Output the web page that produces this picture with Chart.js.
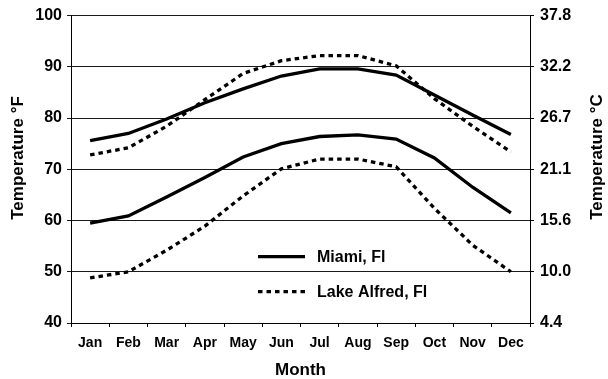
<!DOCTYPE html>
<html>
<head>
<meta charset="utf-8">
<title>Monthly temperature: Miami and Lake Alfred</title>
<script src="https://cdn.jsdelivr.net/npm/chart.js@4.4.1/dist/chart.umd.min.js"></script>
<style>
  html, body { margin: 0; padding: 0; background: #fff; }
  #wrap { width: 608px; height: 379px; }
</style>
</head>
<body>
<div id="wrap"><canvas id="chart" width="608" height="379"></canvas></div>
<script>
// Months on the category axis
const months = ['Jan', 'Feb', 'Mar', 'Apr', 'May', 'Jun', 'Jul', 'Aug', 'Sep', 'Oct', 'Nov', 'Dec'];

// Monthly mean maximum and minimum temperatures, °F
const miamiMax = [75.6, 77.0, 79.8, 83.0, 85.7, 88.2, 89.6, 89.6, 88.4, 84.5, 80.6, 76.8];
const miamiMin = [59.5, 60.9, 64.6, 68.4, 72.4, 75.0, 76.4, 76.7, 75.9, 72.2, 66.5, 61.5];
const lakeAlfredMax = [72.8, 74.2, 78.4, 83.6, 88.7, 91.2, 92.2, 92.2, 90.2, 83.8, 78.4, 73.4];
const lakeAlfredMin = [48.8, 50.0, 54.2, 58.9, 64.8, 70.1, 72.0, 72.0, 70.5, 62.4, 55.2, 50.0];

// Station names for the legend
const stationNames = ['Miami, Fl', 'Lake Alfred, Fl'];

// Fahrenheit axis range and the matching Celsius labels on the right axis
const fahrenheitTicks = [40, 50, 60, 70, 80, 90, 100];
const celsiusTicks = ['4.4', '10.0', '15.6', '21.1', '26.7', '32.2', '37.8'];

const FONT = '"Liberation Sans", Arial, Helvetica, sans-serif';
const INK = '#000';
const DOTS = [4.5, 4];

function lineStyle(dashed) {
  return {
    borderColor: INK,
    borderWidth: 3.3,
    borderDash: dashed ? DOTS : [],
    borderCapStyle: 'butt',
    pointRadius: 0,
    tension: 0,
    fill: false
  };
}

// Axis titles on the two vertical axes and the in-plot legend
const annotations = {
  id: 'annotations',
  afterDraw(chart) {
    const ctx = chart.ctx;
    const area = chart.chartArea;
    ctx.save();
    ctx.fillStyle = INK;
    ctx.font = 'bold 17px ' + FONT;
    ctx.textAlign = 'center';
    ctx.textBaseline = 'middle';

    ctx.save();
    ctx.translate(18, 158);
    ctx.rotate(-Math.PI / 2);
    ctx.fillText('Temperature °F', 0, 0);
    ctx.restore();

    ctx.save();
    ctx.translate(597, 157);
    ctx.rotate(-Math.PI / 2);
    ctx.fillText('Temperature °C', 0, 0);
    ctx.restore();

    // legend
    const x0 = area.left + 187;
    const x1 = x0 + 47;
    const rows = [area.top + 241, area.top + 276];
    ctx.strokeStyle = INK;
    ctx.lineWidth = 3.3;
    ctx.lineCap = 'butt';
    rows.forEach((y, i) => {
      ctx.setLineDash(i === 0 ? [] : DOTS);
      ctx.beginPath();
      ctx.moveTo(x0, y);
      ctx.lineTo(x1, y);
      ctx.stroke();
    });
    ctx.setLineDash([]);
    ctx.font = 'bold 16px ' + FONT;
    ctx.textAlign = 'left';
    rows.forEach((y, i) => ctx.fillText(stationNames[i], x1 + 12, y + 1));
    ctx.restore();
  }
};

new Chart(document.getElementById('chart'), {
  type: 'line',
  data: {
    labels: months,
    datasets: [
      Object.assign({ label: stationNames[0] + ' max', data: miamiMax }, lineStyle(false)),
      Object.assign({ label: stationNames[0] + ' min', data: miamiMin }, lineStyle(false)),
      Object.assign({ label: stationNames[1] + ' max', data: lakeAlfredMax }, lineStyle(true)),
      Object.assign({ label: stationNames[1] + ' min', data: lakeAlfredMin }, lineStyle(true))
    ]
  },
  options: {
    responsive: false,
    devicePixelRatio: 1,
    animation: false,
    layout: { padding: { top: 15, left: 0, right: 0, bottom: 0 } },
    plugins: {
      legend: { display: false },
      tooltip: { enabled: false }
    },
    scales: {
      x: {
        offset: true,
        grid: {
          offset: true,
          drawOnChartArea: false,
          drawTicks: true,
          tickLength: 4,
          color: INK,
          lineWidth: 1
        },
        border: { display: true, color: INK, width: 1 },
        ticks: {
          color: INK,
          padding: 8,
          maxRotation: 0,
          autoSkip: false,
          font: { family: FONT, size: 14, weight: 'bold' }
        },
        title: {
          display: true,
          text: 'Month',
          color: INK,
          padding: { top: 0, bottom: 0 },
          font: { family: FONT, size: 17, weight: 'bold', lineHeight: 1 }
        },
        afterFit(scale) { scale.height = 56; }
      },
      y: {
        position: 'left',
        min: fahrenheitTicks[0],
        max: fahrenheitTicks[fahrenheitTicks.length - 1],
        afterBuildTicks(scale) { scale.ticks = fahrenheitTicks.map(v => ({ value: v })); },
        grid: {
          drawOnChartArea: true,
          drawTicks: true,
          tickLength: 4,
          color: '#1a1a1a',
          lineWidth: 1
        },
        border: { display: true, color: INK, width: 1 },
        ticks: {
          color: INK,
          padding: 5,
          font: { family: FONT, size: 16, weight: 'bold' }
        },
        afterFit(scale) { scale.width = 71; }
      },
      yC: {
        position: 'right',
        min: fahrenheitTicks[0],
        max: fahrenheitTicks[fahrenheitTicks.length - 1],
        afterBuildTicks(scale) { scale.ticks = fahrenheitTicks.map(v => ({ value: v })); },
        grid: {
          drawOnChartArea: false,
          drawTicks: true,
          tickLength: 4,
          color: INK,
          lineWidth: 1
        },
        border: { display: true, color: INK, width: 1 },
        ticks: {
          color: INK,
          padding: 6,
          font: { family: FONT, size: 16, weight: 'bold' },
          callback: (value, index) => celsiusTicks[index]
        },
        afterFit(scale) { scale.width = 78; }
      }
    }
  },
  plugins: [annotations]
});
</script>
</body>
</html>
